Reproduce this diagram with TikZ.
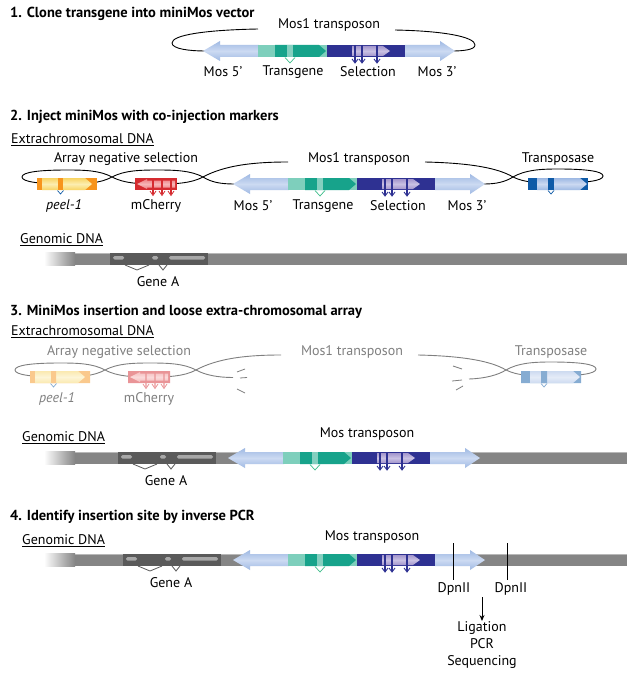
\documentclass[tikz,border=0pt]{standalone}
\usepackage{fontspec}
\setmainfont{PT Sans}
\usetikzlibrary{arrows.meta}
\definecolor{mosblue}{HTML}{9FB9E3}
\definecolor{moslight}{HTML}{CCDAF2}
\definecolor{tglight}{HTML}{7ECFBC}
\definecolor{tgdark}{HTML}{17A38B}
\definecolor{tgband}{HTML}{A9DED1}
\definecolor{navy}{HTML}{2E3192}
\definecolor{lav}{HTML}{A396CC}
\definecolor{lavlight}{HTML}{C9C0E3}
\definecolor{tgv}{HTML}{3DBE8B}
\definecolor{peelor}{HTML}{F7941D}
\definecolor{peelyel}{HTML}{F8D462}
\definecolor{peellight}{HTML}{FCEDB0}
\definecolor{chred}{HTML}{D52B30}
\definecolor{chpink}{HTML}{EE7E82}
\definecolor{chlight}{HTML}{F6B5B6}
\definecolor{tpdark}{HTML}{0E5AA7}
\definecolor{tplight}{HTML}{9DB8E3}
\definecolor{tplighter}{HTML}{CBD9F1}
\definecolor{genomegray}{HTML}{858585}
\definecolor{genomehl}{HTML}{B8B8B8}
\definecolor{genedark}{HTML}{5A5A5A}
\definecolor{exonlight}{HTML}{A8A8A8}
\tikzset{
  lbl/.style={font=\fontsize{14}{16}\selectfont, inner sep=0pt},
  ttl/.style={font=\fontsize{14.5}{16}\selectfont\bfseries, inner sep=0pt, anchor=west},
  loopline/.style={draw=black, line width=0.9pt},
  mosshade/.style={top color=mosblue, bottom color=mosblue, middle color=moslight},
  lavshade/.style={top color=lav, bottom color=lav, middle color=lavlight},
  peelshade/.style={top color=peelyel, bottom color=peelyel, middle color=peellight},
  chshade/.style={top color=chpink, bottom color=chpink, middle color=chlight},
  tpshade/.style={top color=tplight, bottom color=tplight, middle color=tplighter},
}
% Mos transposon construct: #1 = x of left tip, #2 = y of bar centre
\newcommand\mosconstruct[2]{%
\begin{scope}[shift={(#1,#2)}]
  \path[mosshade] (0,0) -- (17,-10) -- (17,-6) -- (56,-6) -- (56,6) -- (17,6) -- (17,10) -- cycle;
  \fill[tglight] (55,-6) rectangle (124,6);
  \fill[tgdark] (72,-6) -- (116,-6) -- (123,0) -- (116,6) -- (72,6) -- cycle;
  \fill[tgband,opacity=0.75] (84,-6) rectangle (90,6);
  \draw[tgv, line width=0.7pt] (82,6.5) -- (87,12) -- (92,6.5);
  \fill[navy] (124,-6) rectangle (202.5,6);
  \path[lavshade] (149,-5) -- (180,-5) -- (187,0) -- (180,5) -- (149,5) -- cycle;
  \foreach \sx in {152,159,174}{%
    \draw[navy, line width=1.3pt] (\sx,-6) -- (\sx,11);
    \draw[navy, line width=0.9pt] (\sx-3,8) -- (\sx,12) -- (\sx+3,8);}
  \path[mosshade] (202,-6) -- (237,-6) -- (237,-10) -- (252,0) -- (237,10) -- (237,6) -- (202,6) -- cycle;
\end{scope}}
% Genomic DNA bar: #1 = y centre, #2 = x of gene A, #3 = name prefix
\newcommand\genome[3]{%
  \fill[genomegray] (45,#1-6) rectangle (627,#1+6);
  \draw[genomehl, line width=0.8pt] (60,#1-5.6) -- (627,#1-5.6);
  \shade[left color=white, right color=genomegray] (44,#1-6.5) rectangle (75,#1+6.5);
  \fill[genedark] (#2,#1-6) rectangle (#2+98,#1+6);
  \fill[exonlight, rounded corners=1.5pt] (#2+3,#1-3) rectangle (#2+14,#1+0.5);
  \fill[exonlight, rounded corners=1.5pt] (#2+42,#1-3) rectangle (#2+48,#1+0.5);
  \fill[exonlight, rounded corners=1.5pt] (#2+59,#1-3) rectangle (#2+95,#1+0.5);
  \draw[genedark, line width=0.8pt] (#2+15,#1+6) -- (#2+27,#1+11) -- (#2+39,#1+6);
  \draw[genedark, line width=0.8pt] (#2+49,#1+6) -- (#2+53,#1+11) -- (#2+57,#1+6);
  \node[lbl] (#3gene) at (#2+48,#1+23) {Gene A};}
% co-injection array parts (section 2 coordinates), #1 = name prefix
\newcommand\arrayparts[1]{%
  \node[lbl] (#1ans) at (126,159) {Array negative selection};
  \node[lbl] (#1mos) at (359,159) {Mos1 transposon};
  \node[lbl] (#1tps) at (558,159) {Transposase};
  \draw[loopline] (112,177) .. controls (100,170.5) and (85,170) .. (67,170) .. controls (40,170) and (22,172) .. (22,177) .. controls (22,182) and (40,184) .. (67,184) .. controls (85,184) and (100,183.5) .. (112,177);
  \draw[loopline] (112,177) .. controls (124,170.5) and (140,170) .. (157,170) .. controls (175,170) and (191,170.5) .. (203,177) .. controls (191,183.5) and (175,184) .. (157,184) .. controls (140,184) and (124,183.5) .. (112,177);
  \draw[loopline] (513,177) .. controls (525,170) and (540,169) .. (558,169) .. controls (585,169) and (603,171) .. (603,176) .. controls (603,181) and (585,183) .. (558,183) .. controls (540,183) and (525,183) .. (513,177);
  \draw[loopline] (203,177) .. controls (225,165) and (255,162) .. (288,162);
  \draw[loopline] (425,162) .. controls (470,163) and (498,168) .. (513,177);
  % peel-1
  \fill[peelor] (37,178) rectangle (97,190);
  \path[peelshade] (42,178) -- (85,178) -- (92,184) -- (85,190) -- (42,190) -- cycle;
  \fill[peelor] (58,178) rectangle (63,190);
  \draw[tpdark, line width=0.7pt] (57.5,190.5) -- (60.5,194) -- (63.5,190.5);
  \node[lbl, font=\fontsize{14}{16}\selectfont\itshape] (#1peel) at (64,206) {peel-1};
  % mCherry
  \fill[chred] (135,178) rectangle (177,190);
  \path[chshade] (137,184) -- (147,179) -- (147,180.5) -- (175,180.5) -- (175,187.5) -- (147,187.5) -- (147,189) -- cycle;
  \foreach \cx in {153,162,171}{%
    \draw[chred, line width=1.2pt] (\cx,178) -- (\cx,194);
    \draw[chred, line width=0.8pt] (\cx-3,191) -- (\cx,195.5) -- (\cx+3,191);}
  \node[lbl] (#1mch) at (156,206) {mCherry};
  % transposase
  \fill[tpdark] (528,178) rectangle (588,190);
  \path[tpshade] (537,178) -- (580,178) -- (587,184) -- (580,190) -- (537,190) -- cycle;
  \fill[tpdark] (548,178) rectangle (554,190);
  \draw[tpdark, line width=0.7pt] (548,190.5) -- (551,194) -- (554,190.5);}
\begin{document}
\begin{tikzpicture}[x=1pt, y=-1pt]
\useasboundingbox[fill=white] (0,0) rectangle (627,687);

% ---------- Section 1
\node[ttl] (t1) at (10,14) {1. Clone transgene into miniMos vector};
\node[lbl] (s1mos) at (329,25) {Mos1 transposon};
\draw[loopline] (258,29) .. controls (205,30) and (172,35) .. (172,43) .. controls (172,49) and (190,51) .. (205,51);
\draw[loopline] (395,30) .. controls (445,31) and (475,37) .. (475,45) .. controls (475,50) and (462,51) .. (452,51);
\mosconstruct{203}{51}
\node[lbl] (s1m5) at (223,72) {Mos 5’};
\node[lbl] (s1tg) at (293,72) {Transgene};
\node[lbl] (s1sel) at (368,72) {Selection};
\node[lbl] (s1m3) at (437,72) {Mos 3’};

% ---------- Section 2
\node[ttl] (t2) at (10,117) {2. Inject miniMos with co-injection markers};
\node[lbl, anchor=west] (s2ex) at (11,140) {\underline{Extrachromosomal DNA}};
\arrayparts{s2}
\draw[loopline] (203,177) .. controls (211,182) and (220,184) .. (234,184);
\draw[loopline] (513,177) .. controls (505,182) and (496,184) .. (484,184);
\mosconstruct{233}{184}
\node[lbl] (s2m5) at (253,206) {Mos 5’};
\node[lbl] (s2tg) at (323,206) {Transgene};
\node[lbl] (s2sel) at (398,206) {Selection};
\node[lbl] (s2m3) at (467,206) {Mos 3’};
\node[lbl, anchor=west] (s2gd) at (20,240) {\underline{Genomic DNA}};
\genome{259}{110}{s2}

% ---------- Section 3
\node[ttl] (t3) at (10,312) {3. MiniMos insertion and loose extra-chromosomal array};
\node[lbl, anchor=west] (s3ex) at (11,332) {\underline{Extrachromosomal DNA}};
\begin{scope}[shift={(-7,193)}, transparency group, opacity=0.5]
  \arrayparts{s3}
  \draw[loopline] (203,177) .. controls (212,182) and (225,184.5) .. (240,184.5);
  \draw[loopline] (513,177) .. controls (505,182) and (492,185.5) .. (476,186);
  \draw[black, line width=0.8pt] (244,179) -- (252,176);
  \draw[black, line width=0.8pt] (247,185) -- (254,184.5);
  \draw[black, line width=0.8pt] (244,196) -- (252,200);
  \draw[black, line width=0.8pt] (469,176) -- (460,173);
  \draw[black, line width=0.8pt] (469,187) -- (459,188);
  \draw[black, line width=0.8pt] (470,193) -- (463,197);
\end{scope}
\node[lbl, anchor=west] (s3gd) at (22,438) {\underline{Genomic DNA}};
\genome{458}{118}{s3}
\mosconstruct{228}{458}
\node[lbl] (s3mos) at (367,434) {Mos transposon};

% ---------- Section 4
\node[ttl] (t4) at (10,517) {4. Identify insertion site by inverse PCR};
\node[lbl, anchor=west] (s4gd) at (22,541) {\underline{Genomic DNA}};
\genome{560}{123}{s4}
\mosconstruct{233}{560}
\node[lbl] (s4mos) at (372,537) {Mos transposon};
\coordinate (cut1t) at (453,543);
\coordinate (cut1b) at (453,580);
\coordinate (cut2t) at (507,543);
\coordinate (cut2b) at (507,580);
\draw[black, line width=0.9pt] (cut1t) -- (cut1b);
\draw[black, line width=0.9pt] (cut2t) -- (cut2b);
\node[lbl] (dp1) at (454,589) {DpnII};
\node[lbl] (dp2) at (511,589) {DpnII};
\node[lbl, align=center, font=\fontsize{14}{17}\selectfont, anchor=north] (lig) at (482,621) {Ligation\\PCR\\Sequencing};
\coordinate (arrtop) at (482,597);
\draw[black, line width=0.9pt, -{Stealth[length=6pt,width=5pt]}] (arrtop) -- (lig.north);
\end{tikzpicture}
\end{document}
